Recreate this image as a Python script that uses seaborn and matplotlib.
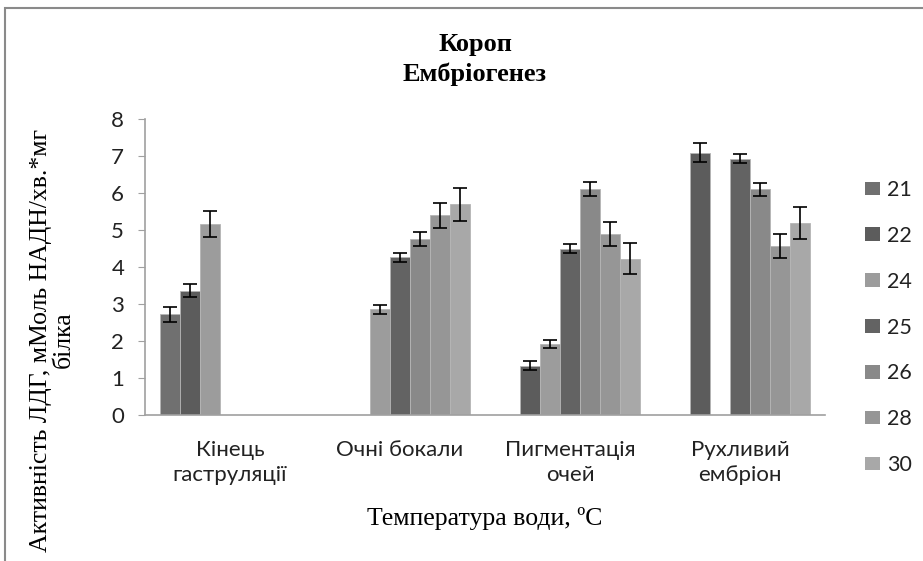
import pandas as pd
import matplotlib.pyplot as plt
import matplotlib.patches as mpatches
import seaborn as sns

# Стадії ембріогенезу та температури
stages = ['Кінець\nгаструляції', 'Очні бокали', 'Пигментація\nочей', 'Рухливий\nембріон']
temps = ['21', '22', '24', '25', '26', '28', '30']
colors = ['#707070', '#5c5c5c', '#9c9c9c', '#636363', '#898989', '#969696', '#a8a8a8']

# значення по кожній температурі (None = немає даних)
t21 = [2.72, None, None, None]
t22 = [3.36, None, 1.33, 7.09]
t24 = [5.16, 2.86, 1.92, None]
t25 = [None, 4.26, 4.49, 6.93]
t26 = [None, 4.76, 6.10, 6.10]
t28 = [None, 5.40, 4.89, 4.56]
t30 = [None, 5.69, 4.22, 5.19]

e21 = [0.20, None, None, None]
e22 = [0.18, None, 0.12, 0.25]
e24 = [0.35, 0.12, 0.12, None]
e25 = [None, 0.12, 0.12, 0.12]
e26 = [None, 0.19, 0.19, 0.17]
e28 = [None, 0.34, 0.33, 0.33]
e30 = [None, 0.44, 0.42, 0.43]

vals = [t21, t22, t24, t25, t26, t28, t30]
errs = [e21, e22, e24, e25, e26, e28, e30]

rows = []
for t, v, e in zip(temps, vals, errs):
    for i, s in enumerate(stages):
        if v[i] is not None:
            rows.append({'stage': s, 'temp': t, 'value': v[i], 'err': e[i]})
df = pd.DataFrame(rows)

fig = plt.figure(figsize=(9.23, 5.61), dpi=100)
ax = fig.add_axes([145 / 923, 1 - 415 / 561, 680 / 923, 296 / 561])

sns.barplot(data=df, x='stage', y='value', hue='temp', order=stages, hue_order=temps,
            palette=dict(zip(temps, colors)), width=0.824, errorbar=None,
            saturation=1, edgecolor='#b5b5b5', linewidth=0.6, ax=ax, legend=False)

# планки похибок
err_lookup = {(r.stage, r.temp): r.err for r in df.itertuples()}
for t, cont in zip(temps, ax.containers):
    for bar in cont:
        h = bar.get_height()
        if h != h or h == 0:
            continue
        xc = bar.get_x() + bar.get_width() / 2
        s = stages[int(round(xc))]
        ax.errorbar(xc, h, yerr=err_lookup[(s, t)], color='black', lw=1.2,
                    capsize=5, capthick=1.2)

ax.set_ylim(0, 8)
ax.set_xlim(-0.5, 3.5)
ax.set_yticks(range(0, 9))
ax.set_xlabel('')
ax.set_ylabel('')
sns.despine(ax=ax)
for sp in ['left', 'bottom']:
    ax.spines[sp].set_color('#a0a0a0')
    ax.spines[sp].set_linewidth(1.2)
ax.tick_params(axis='y', length=5, color='#a0a0a0', labelsize=16, pad=10)
ax.tick_params(axis='x', length=0, labelsize=16, pad=18)
for lab in ax.get_xticklabels() + ax.get_yticklabels():
    lab.set_family('Lato')
    lab.set_color('#222222')
    lab.set_linespacing(1.3)

handles = [mpatches.Patch(facecolor=c, edgecolor='none') for c in colors]
leg = fig.legend(handles, temps, loc='upper left', bbox_to_anchor=(865 / 923, 1 - 180 / 561),
                 frameon=False, borderpad=0, borderaxespad=0,
                 handlelength=0.68, handleheight=0.6, handletextpad=0.35,
                 labelspacing=1.2, prop={'family': 'Lato', 'size': 15.5})
for txt in leg.get_texts():
    txt.set_color('#222222')

serif = 'Liberation Serif'
fig.text(475 / 923, 1 - 44 / 561, 'Короп', ha='center', va='center',
         family=serif, fontweight='bold', fontsize=19)
fig.text(475 / 923, 1 - 74 / 561, 'Ембріогенез', ha='center', va='center',
         family=serif, fontweight='bold', fontsize=19)
fig.text(485 / 923, 1 - 519 / 561, 'Температура води, \u00baC', ha='center', va='center',
         family=serif, fontsize=18.5)
fig.text(52 / 923, 1 - 340 / 561, 'Активність ЛДГ, мМоль НАДН/хв.*мг\nбілка',
         rotation=90, ha='center', va='center', multialignment='center',
         family=serif, fontsize=18.5, linespacing=1.05)

# рамка діаграми
fig.patches.append(mpatches.Rectangle((5 / 923, -0.1), 1.2, 0.1 + 1 - 8 / 561,
                                      transform=fig.transFigure, fill=False,
                                      edgecolor='#8a8a8a', linewidth=1.5))

fig.savefig('out.png', dpi=100)
